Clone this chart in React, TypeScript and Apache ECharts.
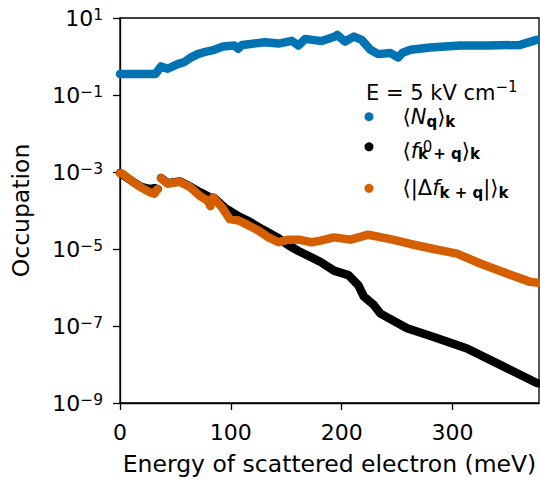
import React, { useEffect, useRef } from 'react';
import * as echarts from 'echarts';

const F = 'DejaVu Sans';

const xTicks = [0, 100, 200, 300];

// <N_q>_k (blue)
const energyNq = [0, 10, 20, 32, 37, 43, 52, 58, 63, 70, 78, 85, 93, 103, 106.6, 110, 116, 131, 143, 155, 161, 167, 182, 194, 196, 203, 211, 218, 226, 233, 244, 251, 255, 262, 280, 307, 331, 361, 376, 380];
const occNq = [0.351, 0.351, 0.351, 0.351, 0.552, 0.481, 0.635, 0.716, 0.908, 1.153, 1.346, 1.489, 1.811, 1.923, 1.585, 1.995, 2.089, 2.355, 2.168, 2.547, 1.923, 2.864, 2.512, 3.311, 3.639, 2.443, 3.289, 2.704, 1.489, 1.153, 1.225, 0.942, 1.259, 1.489, 1.71, 1.923, 1.923, 2.004, 2.704, 2.818];

// <f0_{k+q}>_k (black)
const energyF0 = [0, 12, 19, 27, 31, 34, 35.5, 37, 43, 54, 63, 72, 81, 85, 95, 107, 116, 128, 143, 153, 161, 172, 181, 193, 206, 215, 220, 229, 235, 259, 283, 313, 343, 361, 376, 380];
const occF0 = [9.4e-4, 5.5e-4, 4.1e-4, 3.6e-4, 3.8e-4, 3.6e-4, null, 7.0e-4, 5.1e-4, 5.7e-4, 4.2e-4, 3.0e-4, 2.2e-4, 2.1e-4, 1.15e-4, 7.0e-5, 5.3e-5, 3.3e-5, 1.9e-5, 1.2e-5, 8.9e-6, 6.2e-6, 4.6e-6, 2.75e-6, 2.1e-6, 1.15e-6, 5.8e-7, 3.5e-7, 2.1e-7, 8.7e-8, 5.2e-8, 2.6e-8, 9.8e-9, 5.4e-9, 3.3e-9, 3.2e-9];

// <|Δf_{k+q}|>_k (orange)
const energyDf = [0, 3, 12, 19, 27, 31, 33.7, 35, 37, 43, 54, 63, 72, 79, 81.5, 84, 92, 99, 107, 116, 125, 134, 143, 152, 161, 173, 181, 193, 208, 224, 244, 262, 283, 304, 325, 349, 370, 380];
const occDf = [9.3e-4, 8.7e-4, 5.4e-4, 4.0e-4, 2.95e-4, 2.75e-4, 3.6e-4, null, 6.9e-4, 5.0e-4, 5.6e-4, 4.1e-4, 2.4e-4, 1.8e-4, 1.3e-4, 2.2e-4, 1.2e-4, 6.0e-5, 5.5e-5, 4.1e-5, 3.0e-5, 2.0e-5, 1.5e-5, 1.75e-5, 1.75e-5, 1.5e-5, 1.65e-5, 2.0e-5, 1.75e-5, 2.35e-5, 1.8e-5, 1.35e-5, 1.0e-5, 7.6e-6, 4.2e-6, 2.3e-6, 1.4e-6, 1.3e-6];

const seriesNames = ['Nq', 'f0', 'df'];
const seriesColors = ['#0173b2', '#000000', '#d55e00'];

const zip = (xs: number[], ys: (number | null)[]) => xs.map((x, i) => [x, ys[i] == null ? '-' : ys[i]]);

const tickRich = {
  b: { fontFamily: F, fontSize: 22, lineHeight: 22, verticalAlign: 'bottom', color: '#000' },
  s: { fontFamily: F, fontSize: 15.5, lineHeight: 15, verticalAlign: 'top', color: '#000' },
};

const mkRich = (lh: number, mainAlign: string) => ({
  z: { fontFamily: F, fontSize: 2, lineHeight: lh, width: 0 },
  m: { fontFamily: F, fontSize: 21, lineHeight: 21, verticalAlign: mainAlign, color: '#000' },
  i: { fontFamily: F, fontSize: 21, lineHeight: 21, verticalAlign: mainAlign, fontStyle: 'italic', color: '#000' },
  sb: { fontFamily: F, fontSize: 15, fontWeight: 'bold', lineHeight: 15, verticalAlign: 'bottom', color: '#000' },
  sp: { fontFamily: F, fontSize: 15, lineHeight: 15, verticalAlign: 'middle', width: 0, color: '#000' },
});

const legendRichSets = [mkRich(25, 'middle'), mkRich(30, 'bottom'), mkRich(25, 'middle')];

const legendLabels: Record<string, string> = {
  Nq: '{z| }{m|\u27e8}{i|N}{sb|q}{m|\u27e9}{sb|k}',
  f0: '{z| }{m|\u27e8}{i|f}{sp| 0}{sb|k + q}{m|\u27e9}{sb|k}',
  df: '{z| }{m|\u27e8|\u0394}{i|f}{sb|k + q}{m||\u27e9}{sb|k}',
};

const legendTops = [106.2, 139.3, 177.8];

export default function App() {
  const ref = useRef<HTMLDivElement>(null);
  useEffect(() => {
    const chart = echarts.init(ref.current!, null, { renderer: 'svg' });
    const dataSets = [zip(energyNq, occNq), zip(energyF0, occF0), zip(energyDf, occDf)];
    chart.setOption({
      animation: false,
      backgroundColor: '#fff',
      textStyle: { fontFamily: F },
      grid: {
        left: 120, right: 1, top: 18, bottom: 76,
        show: true, borderColor: '#000', borderWidth: 1.3, backgroundColor: 'transparent',
      },
      title: {
        text: '{a|E = 5 kV cm}{s|\u22121}',
        left: 366, top: 79, padding: 0,
        textStyle: {
          fontWeight: 'normal',
          rich: {
            a: { fontFamily: F, fontSize: 21, fontWeight: 'normal', lineHeight: 24, verticalAlign: 'bottom', color: '#000' },
            s: { fontFamily: F, fontSize: 15, fontWeight: 'normal', lineHeight: 15, verticalAlign: 'top', color: '#000' },
          },
        },
      },
      legend: seriesNames.map((n, k) => ({
        orient: 'vertical', left: 364.5, top: legendTops[k], padding: 0,
        itemWidth: 9, itemHeight: 9, itemGap: 0, icon: 'circle',
        data: [n],
        selectedMode: false,
        formatter: (name: string) => legendLabels[name],
        textStyle: { rich: legendRichSets[k], padding: [0, 0, 0, 24] },
      })),
      xAxis: {
        type: 'value', min: 0, max: 378,
        name: 'Energy of scattered electron (meV)',
        nameLocation: 'middle', nameGap: 49,
        nameTextStyle: { fontFamily: F, fontSize: 23.5, color: '#000' },
        axisLine: { lineStyle: { color: '#000', width: 1.3 } },
        axisTick: { show: true, inside: false, length: 7, lineStyle: { color: '#000', width: 1.3 }, customValues: xTicks },
        axisLabel: { customValues: xTicks, fontFamily: F, fontSize: 22, color: '#000', margin: 18 },
        splitLine: { show: false },
      },
      yAxis: {
        type: 'log', logBase: 10, min: 1e-9, max: 10, interval: 2,
        name: 'Occupation',
        nameLocation: 'middle', nameGap: 87,
        nameTextStyle: { fontFamily: F, fontSize: 23.5, color: '#000' },
        axisLine: { lineStyle: { color: '#000', width: 1.3 } },
        axisTick: { show: true, inside: false, length: 7, lineStyle: { color: '#000', width: 1.3 } },
        minorTick: { show: false },
        axisLabel: {
          margin: 17,
          formatter: (v: number) => {
            const e = Math.round(Math.log10(v));
            return `{b|10}{s|${e < 0 ? '\u2212' + -e : e}}`;
          },
          rich: tickRich,
        },
        splitLine: { show: false },
      },
      series: seriesNames.map((n, k) => ({
        name: n,
        type: 'line',
        data: dataSets[k],
        showSymbol: false,
        connectNulls: false,
        color: seriesColors[k],
        itemStyle: { color: seriesColors[k] },
        lineStyle: { color: seriesColors[k], width: 8.5, cap: 'round', join: 'round' },
        emphasis: { disabled: true },
        clip: true,
        z: 2 + k,
      })),
    });
    return () => chart.dispose();
  }, []);
  return <div ref={ref} style={{ position: 'absolute', left: 0, top: 0, width: 540, height: 481 }} />;
}
